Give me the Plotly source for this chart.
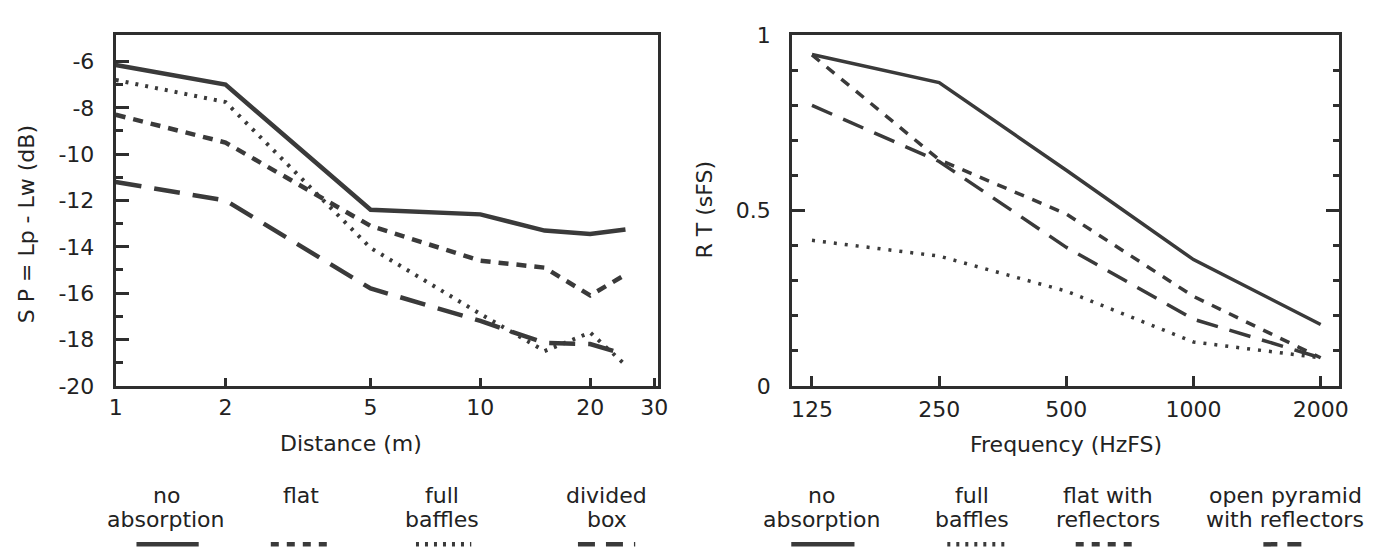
import plotly.graph_objects as go

# ---------------- data ----------------
distance_m = [1, 2, 5, 10, 15, 20, 25]
sp_no_absorption = [-6.15, -7.0, -12.4, -12.6, -13.3, -13.45, -13.25]
sp_flat = [-8.3, -9.5, -13.1, -14.6, -14.9, -16.1, -15.2]
sp_full_baffles = [-6.8, -7.75, -14.05, -16.9, -18.5, -17.7, -19.1]
sp_divided_box = [-11.2, -12.0, -15.8, -17.2, -18.15, -18.2, -18.65]

freq_hz = [125, 250, 500, 1000, 2000]
rt_no_absorption = [0.945, 0.865, 0.615, 0.36, 0.175]
rt_full_baffles = [0.415, 0.37, 0.27, 0.125, 0.08]
rt_flat_reflectors = [0.944, 0.645, 0.49, 0.255, 0.08]
rt_pyramid_reflectors = [0.80, 0.64, 0.395, 0.19, 0.08]

left_xticks = [1, 2, 5, 10, 20, 30]
left_yticks = [-20, -18, -16, -14, -12, -10, -8, -6]
left_yminor = [-19, -17, -15, -13, -11, -9, -7]
right_xticks = [125, 250, 500, 1000, 2000]
right_yticks = [0, 0.5, 1]
right_yminor = [0.1, 0.2, 0.3, 0.4, 0.6, 0.7, 0.8, 0.9]

left_legend = [["no", "absorption"], ["flat"], ["full", "baffles"], ["divided", "box"]]
right_legend = [["no", "absorption"], ["full", "baffles"], ["flat with", "reflectors"],
                ["open pyramid", "with reflectors"]]

# ---------------- style ----------------
W, H = 1374, 557
INK = "#3a3a3a"
FRAME = "#2e2e2e"
FONT = "DejaVu Sans, Liberation Sans, Arial, sans-serif"
FS = 22

SOLID = "solid"
SHORT = "10px,8px"
DOT = "3px,7px"
LONG = "26px,13px"
R_SHORT = "10px,9px"
R_DOT = "3px,8px"
R_LONG = "22px,12px"


def px_x(p):
    return p / W


def px_y(p):
    return 1 - p / H


fig = go.Figure()

left_series = [
    (sp_no_absorption, SOLID, 4.5),
    (sp_flat, SHORT, 4.5),
    (sp_full_baffles, DOT, 4),
    (sp_divided_box, LONG, 4.5),
]
for ys, dash, w in left_series:
    fig.add_trace(go.Scatter(x=distance_m, y=ys, mode="lines",
                             line=dict(color=INK, width=w, dash=dash),
                             xaxis="x", yaxis="y", showlegend=False))

right_series = [
    (rt_no_absorption, SOLID, 3.5),
    (rt_full_baffles, R_DOT, 3.5),
    (rt_flat_reflectors, R_SHORT, 3.5),
    (rt_pyramid_reflectors, R_LONG, 3.5),
]
for ys, dash, w in right_series:
    fig.add_trace(go.Scatter(x=freq_hz, y=ys, mode="lines",
                             line=dict(color=INK, width=w, dash=dash),
                             xaxis="x2", yaxis="y2", showlegend=False))

tickfont = dict(family=FONT, size=FS, color="#222")
ydom = [px_y(383), px_y(16)]

fig.update_layout(
    width=W, height=H,
    margin=dict(l=0, r=0, t=0, b=0),
    paper_bgcolor="white", plot_bgcolor="white",
    font=dict(family=FONT, size=FS, color="#222"),
    xaxis=dict(domain=[px_x(102), px_x(651)], type="log", range=[0, 1.487],
               tickmode="array", tickvals=left_xticks,
               ticktext=[str(v) for v in left_xticks],
               ticks="inside", ticklen=8, tickwidth=2.5, tickcolor=FRAME,
               showline=True, linewidth=3, linecolor=FRAME, mirror=True,
               showgrid=False, zeroline=False, tickfont=tickfont,
               ticklabelstandoff=0, anchor="y"),
    yaxis=dict(domain=ydom, range=[-20, -4.87],
               tickmode="array", tickvals=left_yticks,
               ticktext=[str(v) for v in left_yticks],
               ticks="inside", ticklen=13, tickwidth=2.5, tickcolor=FRAME,
               minor=dict(tickmode="array", tickvals=left_yminor, ticks="inside",
                          ticklen=7, tickwidth=2.5, tickcolor=FRAME, showgrid=False),
               showline=True, linewidth=3, linecolor=FRAME, mirror=True,
               showgrid=False, zeroline=False, tickfont=tickfont,
               ticklabelstandoff=14, anchor="x"),
    xaxis2=dict(domain=[px_x(787), px_x(1341)], type="log", range=[2.0502, 3.3454],
                tickmode="array", tickvals=right_xticks,
                ticktext=[str(v) for v in right_xticks],
                ticks="inside", ticklen=10, tickwidth=2.5, tickcolor=FRAME,
                showline=True, linewidth=3, linecolor=FRAME, mirror=True,
                showgrid=False, zeroline=False, tickfont=tickfont,
                ticklabelstandoff=2, anchor="y2"),
    yaxis2=dict(domain=ydom, range=[0, 1],
                tickmode="array", tickvals=right_yticks,
                ticktext=["0", "0.5", "1"],
                ticks="inside", ticklen=13, tickwidth=2.5, tickcolor=FRAME,
                minor=dict(tickmode="array", tickvals=right_yminor, ticks="inside",
                           ticklen=6, tickwidth=2.5, tickcolor=FRAME, showgrid=False),
                showline=True, linewidth=3, linecolor=FRAME, mirror="ticks",
                showgrid=False, zeroline=False, tickfont=tickfont,
                ticklabelstandoff=14, anchor="x2"),
)

annos = []
# axis titles
annos.append(dict(text="Distance (m)", x=px_x(340), y=px_y(443), xref="paper", yref="paper",
                  showarrow=False, xanchor="center", yanchor="middle"))
annos.append(dict(text="Frequency (HzFS)", x=px_x(1064), y=px_y(444), xref="paper", yref="paper",
                  showarrow=False, xanchor="center", yanchor="middle"))
annos.append(dict(text="S P = Lp - Lw (dB)", x=px_x(12), y=px_y(214), xref="paper", yref="paper",
                  showarrow=False, xanchor="center", yanchor="middle", textangle=-90))
annos.append(dict(text="R T (sFS)", x=px_x(698), y=px_y(198), xref="paper", yref="paper",
                  showarrow=False, xanchor="center", yanchor="middle", textangle=-90))

shapes = []
left_leg_cx = [153, 290, 432, 599]
left_leg_seg = [(123, 186, SOLID), (259, 321, "8px,8px"), (406, 462, "3px,6px"), (570, 628, "17px,11px")]
right_leg_cx = [817, 969, 1107, 1286]
right_leg_seg = [(786, 850, SOLID), (944, 1002, "3px,6px"), (1074, 1136, "8px,8px"), (1264, 1308, "14px,10px")]
line_y = [498, 523]

for labels, cxs, segs in [(left_legend, left_leg_cx, left_leg_seg),
                          (right_legend, right_leg_cx, right_leg_seg)]:
    for lines, cx, (x0, x1, dash) in zip(labels, cxs, segs):
        for txt, ly in zip(lines, line_y):
            annos.append(dict(text=txt, x=px_x(cx), y=px_y(ly), xref="paper", yref="paper",
                              showarrow=False, xanchor="center", yanchor="middle"))
        shapes.append(dict(type="line", xref="paper", yref="paper",
                           x0=px_x(x0), x1=px_x(x1), y0=px_y(549), y1=px_y(549),
                           line=dict(color=INK, width=4.5, dash=dash)))

fig.update_layout(annotations=annos, shapes=shapes)
fig.write_html("out.html")
